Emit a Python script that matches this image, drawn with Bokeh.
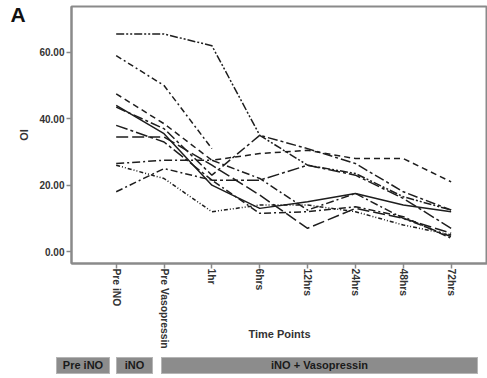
import math
from bokeh.plotting import figure
from bokeh.layouts import column
from bokeh.models import Range1d, FixedTicker, PrintfTickFormatter, Label, Div
from bokeh.embed import file_html
from bokeh.resources import INLINE

nan = float("nan")

time_points = ["Pre iNO", "Pre Vasopressin", "1hr", "6hrs", "12hrs", "24hrs", "48hrs", "72hrs"]
x_idx = list(range(len(time_points)))

patient_1 = [65.5, 65.5, 62.0, 35.0, 26.0, 23.5, 16.5, 12.5]
patient_2 = [59.0, 50.0, 31.0, nan, nan, nan, nan, nan]
patient_3 = [47.5, 38.5, 27.5, 29.5, 30.5, 28.0, 28.0, 21.0]
patient_4 = [44.0, 35.5, 20.0, 13.0, 15.0, 17.5, 14.0, 12.0]
patient_5 = [43.5, 37.0, 23.0, 35.0, 31.0, 26.5, 18.0, 12.5]
patient_6 = [38.0, 33.0, 21.5, 21.5, 26.0, 23.0, 16.0, 7.0]
patient_7 = [34.5, 34.5, 26.0, 17.0, 7.0, 13.0, 10.0, 5.5]
patient_8 = [26.5, 27.5, 27.5, 22.0, 12.5, 17.5, 10.0, 4.5]
patient_9 = [26.0, 22.0, 12.0, 14.0, 14.0, 12.0, 8.0, 5.0]
patient_10 = [18.0, 25.0, 21.5, 11.5, 12.0, 13.5, 10.5, 4.0]

patients = [patient_1, patient_2, patient_3, patient_4, patient_5,
            patient_6, patient_7, patient_8, patient_9, patient_10]
dashes = ["8 2 2 2 2 2", "6 3 2 3", "6 4", "solid", "10 3 3 3",
          "12 3 3 3", "12 4", "8 3 2 3", "4 2 1 2 1 2", "7 3 2 3"]

y_ticks = [0, 20, 40, 60]

phase_names = ["Pre iNO", "iNO", "iNO + Vasopressin"]
phase_start = [-1.183, 0.062, 0.996]
phase_end = [-0.062, 0.830, 7.573]

FONT = "Liberation Sans"
AXIS_GREY = "#8a8a8a"

W, H_MAIN, H_STRIP = 487, 352, 26
BORDER_LEFT, BORDER_TOP, BORDER_BOTTOM = 68, 6, 89

x_start, x_end = -0.934, 7.76
p = figure(width=W, height=H_MAIN, output_backend="svg", toolbar_location=None,
           x_range=Range1d(x_start, x_end), y_range=Range1d(-3.6, 73.8),
           min_border_left=BORDER_LEFT, min_border_right=0,
           min_border_top=BORDER_TOP, min_border_bottom=BORDER_BOTTOM)
p.xgrid.visible = False
p.ygrid.visible = False
p.outline_line_color = AXIS_GREY
p.outline_line_width = 2
p.background_fill_color = "white"
p.border_fill_color = "white"

for vals, d in zip(patients, dashes):
    p.line(x_idx, vals, line_color="#1e1e1e", line_width=1.5, line_dash=d)

# y axis
p.yaxis.ticker = FixedTicker(ticks=y_ticks)
p.yaxis.formatter = PrintfTickFormatter(format="%.2f")
p.yaxis.major_label_text_font = FONT
p.yaxis.major_label_text_font_style = "bold"
p.yaxis.major_label_text_font_size = "10px"
p.yaxis.major_label_text_color = "#333333"
p.yaxis.axis_line_color = AXIS_GREY
p.yaxis.axis_line_width = 2
p.yaxis.major_tick_line_color = AXIS_GREY
p.yaxis.major_tick_line_width = 1.5
p.yaxis.major_tick_out = 5
p.yaxis.major_tick_in = 0
p.yaxis.minor_tick_line_color = None
p.yaxis.major_label_standoff = 2
p.yaxis.axis_label = "OI"
p.yaxis.axis_label_text_font = FONT
p.yaxis.axis_label_text_font_style = "bold"
p.yaxis.axis_label_text_font_size = "11px"
p.yaxis.axis_label_text_color = "#333333"
p.yaxis.axis_label_standoff = 6

# x axis
p.xaxis.ticker = FixedTicker(ticks=x_idx)
p.xaxis.major_label_overrides = {i: t for i, t in zip(x_idx, time_points)}
p.xaxis.major_label_orientation = -math.pi / 2
p.xaxis.major_label_text_font = FONT
p.xaxis.major_label_text_font_style = "bold"
p.xaxis.major_label_text_font_size = "10.3px"
p.xaxis.major_label_text_color = "#333333"
p.xaxis.axis_line_color = AXIS_GREY
p.xaxis.axis_line_width = 2
p.xaxis.major_tick_line_color = AXIS_GREY
p.xaxis.major_tick_line_width = 1.5
p.xaxis.major_tick_out = 5
p.xaxis.major_tick_in = 0
p.xaxis.minor_tick_line_color = None
p.xaxis.major_label_standoff = 0
p.xaxis.axis_label = "Time Points"
p.xaxis.axis_label_text_font = FONT
p.xaxis.axis_label_text_font_style = "bold"
p.xaxis.axis_label_text_font_size = "11px"
p.xaxis.axis_label_text_color = "#333333"
p.xaxis.axis_label_standoff = -24

# panel letter, placed in the left side panel so it is not clipped by the frame
p.add_layout(Label(x=10, y=238, x_units="screen", y_units="screen", text="A",
                   text_font=FONT, text_font_style="bold", text_font_size="21px",
                   text_color="#111111"), "left")

# phase bar strip, positioned with the same category -> pixel mapping as the plot
px_per_unit = (W - BORDER_LEFT) / (x_end - x_start)


def to_px(v):
    return BORDER_LEFT + (v - x_start) * px_per_unit


boxes = []
for name, a, b in zip(phase_names, phase_start, phase_end):
    left = to_px(a)
    width = to_px(b) - left
    boxes.append(
        f'<div style="position:absolute;left:{left:.1f}px;top:5px;width:{width:.1f}px;'
        f'height:17px;background:#8c8c8c;border:1px solid #b5b5b5;box-sizing:border-box;'
        f'font-family:\'{FONT}\';font-weight:bold;font-size:11px;line-height:15px;'
        f'text-align:center;color:#1a1a1a;">{name}</div>'
    )
strip = Div(text=f'<div style="position:relative;width:{W}px;height:{H_STRIP}px;">'
                 + "".join(boxes) + "</div>",
            width=W, height=H_STRIP, margin=0)

layout = column(p, strip, spacing=0)
open("out.html", "w").write(file_html(layout, INLINE))
